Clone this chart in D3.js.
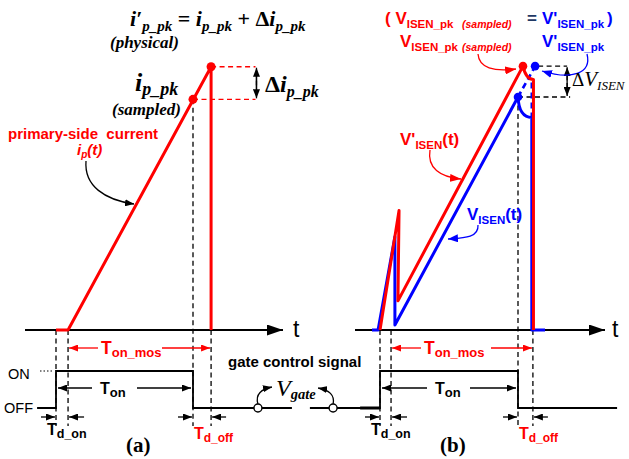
<!DOCTYPE html>
<html>
<head>
<meta charset="utf-8">
<script src="https://cdn.jsdelivr.net/npm/d3@7"></script>
<style>
  body { margin: 0; background: #fff; }
  svg { display: block; }
  text { white-space: pre; }
</style>
</head>
<body>
<div id="chart"></div>
<script>
// Flyback primary-side current sampling: (a) physical current, (b) sense voltage
// times in µs (0 = gate turn-on), current in A, sense voltage in V

// panel (a)
const gateA    = [[-0.69, 0], [0, 0], [0, 1], [5, 1], [5, 0], [8.61, 0]];
const currentA = [[0, 0], [0.44, 0], [5.66, 1.13], [5.66, 0]];
const peaksA   = [[5, 0.99], [5.66, 1.13]];          // sampled, physical
const edgesA   = [0, 0.44, 5, 5.66];                 // gate on, MOS on, gate off, MOS off

// panel (b)
const gateB     = [[-2.54, 0], [0, 0], [0, 1], [5, 1], [5, 0], [8.59, 0]];
const vIsen     = [[-0.29, 0], [-0.07, 0], [0.54, 0.32], [0.54, 0.017], [5, 0.8]];
const vIsenTail = [[5.5, 0.73], [5.5, 0], [5.98, 0]];
const vIsenP    = [[0, 0], [0.69, 0.41], [0.65, 0.1], [5.18, 0.906]];
const vIsenPTail = [[5.56, 0.86], [5.56, 0]];
const peaksB    = [[5.18, 0.906], [5.62, 0.906], [5, 0.8]];   // V'pk (red), V'pk (blue), Vpk
const edgesB    = [0, 0.4, 5, 5.54];

const RED = "#ff0000", BLUE = "#0000ff", NAVY = "#1f3864";
const SANS = "'Liberation Sans', Arial, sans-serif";
const SERIF = "'Liberation Serif', 'Times New Roman', serif";

const svg = d3.select("#chart").append("svg")
  .attr("width", 629).attr("height", 459);

// scales
const xA = d3.scaleLinear().domain([0, 5]).range([56, 193]);
const xB = d3.scaleLinear().domain([0, 5]).range([380, 518]);
const yI = d3.scaleLinear().domain([0, 1]).range([330, 97]);
const yV = d3.scaleLinear().domain([0, 0.8]).range([330, 97]);
const yG = d3.scaleLinear().domain([0, 1]).range([408, 371]);
const AXIS_Y = yI(0);

// arrow heads
const defs = svg.append("defs");
function marker(id, color, len, wid) {
  defs.append("marker").attr("id", id)
    .attr("viewBox", `0 0 ${len} ${wid}`)
    .attr("refX", len).attr("refY", wid / 2)
    .attr("markerWidth", len).attr("markerHeight", wid)
    .attr("markerUnits", "userSpaceOnUse")
    .attr("orient", "auto-start-reverse")
    .append("path").attr("d", `M0,0L${len},${wid / 2}L0,${wid}Z`).attr("fill", color);
}
marker("big", "#000", 16, 11);
marker("sm", "#000", 9, 7);
marker("smR", RED, 9, 7);
marker("smB", BLUE, 10, 8);
marker("cvR", RED, 11, 8);

function arrow(x1, y1, x2, y2, opts = {}) {
  const l = svg.append("line")
    .attr("x1", x1).attr("y1", y1).attr("x2", x2).attr("y2", y2)
    .attr("stroke", opts.color || "#000").attr("stroke-width", opts.w || 1.3);
  if (opts.end !== false) l.attr("marker-end", `url(#${opts.m || "sm"})`);
  if (opts.start) l.attr("marker-start", `url(#${opts.m || "sm"})`);
  if (opts.dash) l.attr("stroke-dasharray", opts.dash);
  return l;
}
function curve(d, color, m) {
  svg.append("path").attr("d", d).attr("fill", "none")
    .attr("stroke", color).attr("stroke-width", 1.3)
    .attr("marker-end", `url(#${m})`);
}
// text with sub/superscript parts: [string, size, baseline shift, attrs]
function rich(x, y, parts, base) {
  const t = svg.append("text").attr("x", x).attr("y", y)
    .attr("font-family", base.family || SANS)
    .attr("font-weight", base.weight || "bold")
    .attr("font-style", base.style || "normal")
    .attr("fill", base.fill || "#000");
  let off = 0;
  parts.forEach(([str, size, shift = 0, attrs = {}]) => {
    const s = t.append("tspan").text(str).attr("font-size", size).attr("dy", shift - off);
    off = shift;
    Object.entries(attrs).forEach(([k, v]) => s.attr(k, v));
  });
  return t;
}
const line = (x, y) => d3.line().x(d => x(d[0])).y(d => y(d[1]));

// ---------- time axes ----------
[[25, 283, 293], [355, 605, 612]].forEach(([a, b, tx]) => {
  arrow(a, AXIS_Y, b, AXIS_Y, {w: 2, m: "big"});
  svg.append("text").attr("x", tx).attr("y", AXIS_Y + 7).attr("font-family", SANS)
    .attr("font-size", 23).text("t");
});

// ---------- dashed timing guides ----------
function guides(x, edges, topOf) {
  edges.forEach(t => {
    svg.append("line").attr("x1", x(t)).attr("x2", x(t))
      .attr("y1", topOf(t)).attr("y2", 426)
      .attr("stroke", "#000").attr("stroke-width", 1.3).attr("stroke-dasharray", "5,3.5");
  });
}
guides(xA, edgesA, t => t === 5 ? yI(peaksA[0][1]) : AXIS_Y);
guides(xB, edgesB, t => t === 5 ? yV(peaksB[2][1]) : AXIS_Y);

// ---------- gate signals ----------
[[gateA, xA], [gateB, xB]].forEach(([g, x]) => {
  svg.append("path").attr("d", line(x, yG)(g)).attr("fill", "none")
    .attr("stroke", "#000").attr("stroke-width", 1.8);
});
svg.append("line").attr("x1", xB(-0.72)).attr("x2", xB(0)).attr("y1", yG(0)).attr("y2", yG(0))
  .attr("stroke", "#000").attr("stroke-width", 3);
svg.append("line").attr("x1", 40).attr("x2", xA(0) - 2).attr("y1", yG(1)).attr("y2", yG(1))
  .attr("stroke", "#000").attr("stroke-width", 1.2).attr("stroke-dasharray", "1.5,2");
svg.append("text").attr("x", 8).attr("y", yG(1) + 8).attr("font-family", SANS)
  .attr("font-size", 14.5).text("ON");
svg.append("text").attr("x", 4).attr("y", yG(0) + 5).attr("font-family", SANS)
  .attr("font-size", 14.5).text("OFF");

// V_gate marker circles and pointers
const circA = xA(7.37), circB = xB(-1.7);
curve(`M${circA},${yG(0) - 4} C${circA - 3},${yG(0) - 14} ${circA + 4},${yG(0) - 19} ${circA + 14},${yG(0) - 21}`, "#000", "sm");
curve(`M${circB},${yG(0) - 4} C${circB + 2},${yG(0) - 13} ${circB - 4},${yG(0) - 18} ${circB - 15},${yG(0) - 20}`, "#000", "sm");
[circA, circB].forEach(cx => svg.append("circle").attr("cx", cx).attr("cy", yG(0)).attr("r", 4)
  .attr("fill", "#fff").attr("stroke", "#000").attr("stroke-width", 1.4));
rich(276, 396, [["V", 24], ["gate", 14.5, 3, {"font-weight": "bold"}]],
  {family: SERIF, weight: "normal", style: "italic"});
svg.append("text").attr("x", 228).attr("y", 367).attr("font-family", SANS)
  .attr("font-weight", "bold").attr("font-size", 15).text("gate control signal");

// ---------- timing arrows ----------
function timing(x, e, labelX) {
  const [on, mosOn, off, mosOff] = e;
  const yTm = 348, yTon = 388, yTd = 417;
  // T_on_mos (red)
  arrow(labelX.mos[0], yTm, x(mosOn) + 1, yTm, {m: "smR", color: RED});
  arrow(labelX.mos[1], yTm, x(mosOff) - 1, yTm, {m: "smR", color: RED});
  rich(labelX.mos[0] + 3, yTm + 6, [["T", 17.5], ["on_mos", 13, 3]], {fill: RED});
  // T_on
  arrow(labelX.on[0], yTon, x(on) + 2, yTon);
  arrow(labelX.on[1], yTon, x(off) - 2, yTon);
  rich(labelX.on[0] + 8, yTon + 6, [["T", 16], ["on", 13, 3]], {});
  // T_d_on / T_d_off
  arrow(x(on) - 15, yTd, x(on) - 1, yTd);
  arrow(x(mosOn) + 16, yTd, x(mosOn) + 1, yTd);
  arrow(x(off) - 15, yTd, x(off) - 1, yTd);
  arrow(x(mosOff) + 15, yTd, x(mosOff) + 1, yTd);
  rich(x(on) - 9, 435, [["T", 16], ["d_on", 12.5, 3]], {});
  rich(x(off) + 1, 439, [["T", 16], ["d_off", 12, 3]], {fill: RED});
}
timing(xA, edgesA, {mos: [98, 162], on: [92, 137]});
timing(xB, edgesB, {mos: [421, 491], on: [427, 470]});

svg.append("text").attr("x", 126).attr("y", 452).attr("font-family", SERIF)
  .attr("font-weight", "bold").attr("font-size", 21).text("(a)");
svg.append("text").attr("x", 440).attr("y", 452).attr("font-family", SERIF)
  .attr("font-weight", "bold").attr("font-size", 21).text("(b)");

// ---------- panel (a): primary current ----------
const [sampA, physA] = peaksA;
const annXA = xA(7.28);
[[physA, xA(physA[0])], [sampA, xA(sampA[0])]].forEach(([p, x0]) => {
  svg.append("line").attr("x1", x0).attr("x2", annXA).attr("y1", yI(p[1])).attr("y2", yI(p[1]))
    .attr("stroke", RED).attr("stroke-width", 1.4).attr("stroke-dasharray", "5,3.5");
});
arrow(annXA + 1, yI(sampA[1]) - 14, annXA + 1, yI(physA[1]) + 1, {start: false});
arrow(annXA + 1, yI(physA[1]) + 14, annXA + 1, yI(sampA[1]) - 1);
svg.append("line").attr("x1", annXA + 1).attr("x2", annXA + 1)
  .attr("y1", yI(physA[1]) + 8).attr("y2", yI(sampA[1]) - 8).attr("stroke", "#000").attr("stroke-width", 1.3);

svg.append("path").attr("d", line(xA, yI)(currentA)).attr("fill", "none")
  .attr("stroke", RED).attr("stroke-width", 3).attr("stroke-linejoin", "round");
peaksA.forEach(p => svg.append("circle").attr("cx", xA(p[0])).attr("cy", yI(p[1]))
  .attr("r", 4.5).attr("fill", RED));

const MATH = {family: SERIF, style: "italic"};
rich(130, 26, [["i′", 22], ["p_pk", 15, 5], [" = ", 22, 0, {"font-style": "normal"}],
  ["i", 22], ["p_pk", 15, 5], [" + Δ", 22, 0, {"font-style": "normal"}], ["i", 22], ["p_pk", 15, 5]], MATH);
rich(110, 48, [["(physical)", 17]], MATH);
rich(135, 91, [["i", 26], ["p_pk", 18, 4]], MATH);
rich(112, 115, [["(sampled)", 17]], MATH);
rich(265, 92, [["Δ", 24, 0, {"font-style": "normal"}], ["i", 24], ["p_pk", 16, 5]], MATH);

svg.append("text").attr("x", 8).attr("y", 139).attr("font-family", SANS)
  .attr("font-weight", "bold").attr("font-size", 15).attr("fill", RED).text("primary-side  current");
rich(77, 155, [["i", 15], ["p", 10, 3], ["(t)", 15, 0]], {fill: RED, style: "italic"});
curve("M86,161 C84,186 105,200 134,204", "#000", "sm");

// ---------- panel (b): sense voltages ----------
const [redPk, bluePk, blueSamp] = peaksB;
const annXB = xB(6.78);
svg.append("line").attr("x1", xB(bluePk[0]) + 3).attr("x2", annXB).attr("y1", yV(redPk[1])).attr("y2", yV(redPk[1]))
  .attr("stroke", "#000").attr("stroke-width", 1.4).attr("stroke-dasharray", "5,3.5");
svg.append("line").attr("x1", xB(blueSamp[0])).attr("x2", annXB + 3).attr("y1", yV(blueSamp[1])).attr("y2", yV(blueSamp[1]))
  .attr("stroke", "#000").attr("stroke-width", 1.4).attr("stroke-dasharray", "5,3.5");
arrow(annXB, yV(redPk[1]) + 14, annXB, yV(redPk[1]) + 1);
arrow(annXB, yV(blueSamp[1]) - 14, annXB, yV(blueSamp[1]) - 1);
svg.append("line").attr("x1", annXB).attr("x2", annXB)
  .attr("y1", yV(redPk[1]) + 8).attr("y2", yV(blueSamp[1]) - 8).attr("stroke", "#000").attr("stroke-width", 1.3);

function trace(pts, tail, bend) {
  const p = d3.path();
  pts.forEach(([t, v], i) => i ? p.lineTo(xB(t), yV(v)) : p.moveTo(xB(t), yV(v)));
  const [t0] = pts[pts.length - 1];
  const [t1, v1] = tail[0];
  p.quadraticCurveTo(xB(t0) + bend, yV(v1), xB(t1), yV(v1));
  tail.slice(1).forEach(([t, v]) => p.lineTo(xB(t), yV(v)));
  return p.toString();
}
// blue: V_ISEN(t)
svg.append("path").attr("d", trace(vIsen, vIsenTail, 1)).attr("fill", "none")
  .attr("stroke", BLUE).attr("stroke-width", 3).attr("stroke-linejoin", "round");
svg.append("line").attr("x1", xB(blueSamp[0])).attr("y1", yV(blueSamp[1]))
  .attr("x2", xB(bluePk[0])).attr("y2", yV(bluePk[1]))
  .attr("stroke", BLUE).attr("stroke-width", 2.6).attr("stroke-dasharray", "6,4");
svg.append("line").attr("x1", xB(vIsenTail[0][0])).attr("x2", xB(vIsenTail[0][0]))
  .attr("y1", yV(0.85)).attr("y2", yV(vIsenTail[0][1]))
  .attr("stroke", BLUE).attr("stroke-width", 2.6).attr("stroke-dasharray", "6,4");
// red: V'_ISEN(t)
svg.append("path").attr("d", trace(vIsenP, vIsenPTail, 3)).attr("fill", "none")
  .attr("stroke", RED).attr("stroke-width", 3).attr("stroke-linejoin", "round");

peaksB.forEach((p, i) => svg.append("circle").attr("cx", xB(p[0])).attr("cy", yV(p[1]))
  .attr("r", 4.3).attr("fill", i === 0 ? RED : BLUE));

// labels (b)
rich(385, 24, [["(", 17], [" V", 17], ["ISEN_pk", 11.5, 4], ["(sampled)", 10.5, 4, {x: 462, "font-style": "italic"}],
  ["=", 17, 0, {x: 527, fill: NAVY}], ["V'", 17, 0, {x: 542, fill: BLUE}], ["ISEN_pk", 11.5, 4, {fill: BLUE}],
  [")", 17, 0, {x: 607, fill: BLUE}]], {fill: RED});
rich(400, 47, [["V", 17], ["ISEN_pk", 11.5, 4], ["(sampled)", 10.5, 4, {x: 462, "font-style": "italic"}]], {fill: RED});
rich(542, 47, [["V'", 17], ["ISEN_pk", 11.5, 4]], {fill: BLUE});
curve("M478,54 C479,68 494,72 516,69", RED, "cvR");
curve("M587,54 C592,74 571,80 542,71", BLUE, "smB");

rich(400, 145, [["V'", 17], ["ISEN", 11.5, 4], ["(t)", 17, 0]], {fill: RED});
curve("M430,150 C427,168 440,177 461,179", RED, "cvR");
rich(467, 220, [["V", 17], ["ISEN", 11.5, 4], ["(t)", 17, 0]], {fill: BLUE});
curve("M478,225 C479,238 463,238 448,239", BLUE, "smB");

rich(572, 86, [["Δ", 19, 0, {"font-style": "normal"}], ["V", 21], ["ISEN", 13, 4]],
  {family: SERIF, style: "italic", weight: "normal"});
</script>
</body>
</html>
